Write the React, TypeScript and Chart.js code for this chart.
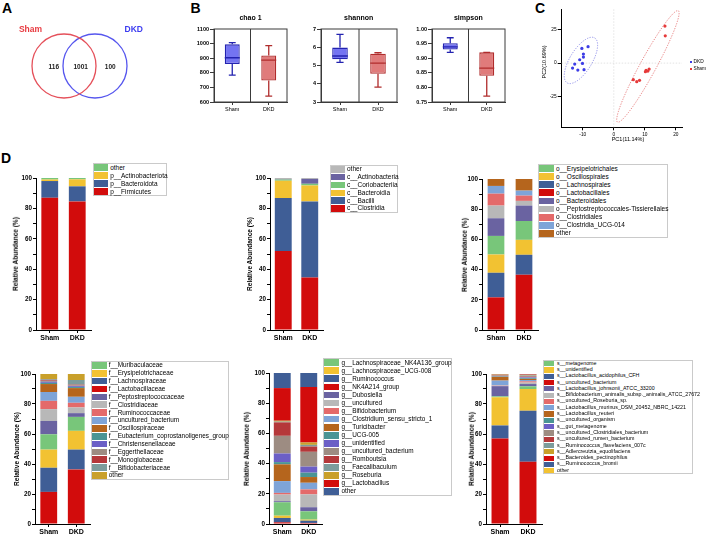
import React, { useEffect, useRef } from 'react';
import Chart from 'chart.js/auto';

const FONT = "'Liberation Sans', Arial, Helvetica, sans-serif";
Chart.defaults.font.family = FONT;
Chart.defaults.color = '#000';

// ---------- palette ----------
const RED = '#d20c0c';
const BLUE = '#3f5e96';
const YELLOW = '#f2c232';
const GREEN = '#78c67a';
const PURPLE = '#6a63a1';
const GRAY = '#b8b8b8';
const PINK = '#e46a6a';
const LIGHTBLUE = '#7ea4d8';
const ORANGE = '#b5651d';
const TEAL = '#4a9595';
const PURPLEBLUE = '#6c5fc6';
const BROWNGRAY = '#9d8c82';
const DARKRED = '#b5383a';
const GRAYTEAL = '#7d9c9c';
const OLIVE = '#c9a02a';

// ---------- A: Venn ----------
const vennSets = ['Sham', 'DKD'];
const vennCenters = [-0.5, 0.5];
const vennCounts = [116, 1001, 100];
const vennCountX = [-0.83, 0.04, 0.99];
const vennColors = ['#e5505a', '#5656ee'];
const vennLabelColors = ['#e83a40', '#3d3df0'];

// ---------- B: alpha diversity [min, q1, median, q3, max] ----------
const groups = ['Sham', 'DKD'];
const chaoStats = [
  [784, 860, 903, 995, 1006],
  [640, 747, 887, 918, 986],
];
const shannonStats = [
  [5.17, 5.34, 5.52, 5.98, 6.71],
  [3.81, 4.55, 5.13, 5.65, 5.7],
];
const simpsonStats = [
  [0.92, 0.93, 0.939, 0.951, 0.97],
  [0.77, 0.84, 0.866, 0.92, 0.92],
];

// ---------- C: PCA ----------
const dkdPC1 = [-10.3, -8.3, -9.8, -9.8, -11.0, -12.6, -10.1, -13.3, -9.6, -11.6];
const dkdPC2 = [10.9, 12.2, 6.7, 4.5, 2.5, -0.7, -0.2, -3.7, -4.9, -5.2];
const shamPC1 = [16.5, 16.6, 10.4, 11.0, 11.4, 10.2, 6.3, 7.4, 8.3];
const shamPC2 = [27.5, 20.3, -5.4, -5.9, -4.4, -6.4, -12.3, -13.8, -12.8];
const dkdEllipseCenter = [-10.6, 2.0];
const dkdEllipseAxes = [[4.45, 16.7], [3.03, -4.26]];
const shamEllipseCenter = [11.0, -2.45];
const shamEllipseAxes = [[9.8, 41.4], [2.3, -2.8]];

// ---------- D: relative abundance (stack order bottom -> top) ----------
const phylumLabels = ['p__Firmicutes', 'p__Bacteroidota', 'p__Actinobacteriota', 'other'];
const phylumSham = [87.0, 11.0, 1.0, 1.0];
const phylumDKD = [84.6, 9.9, 4.6, 0.9];
const phylumColors = [RED, BLUE, YELLOW, GREEN];
const phylumLegend = [3, 2, 1, 0];

const classLabels = ['c__Clostridia', 'c__Bacilli', 'c__Bacteroidia', 'c__Coriobacteriia', 'c__Actinobacteria', 'other'];
const classSham = [52.0, 34.8, 11.4, 0.8, 0.3, 0.7];
const classDKD = [34.5, 50.1, 10.5, 1.1, 3.2, 0.6];
const classColors = [RED, BLUE, YELLOW, GREEN, PURPLE, GRAY];
const classLegend = [5, 4, 3, 2, 1, 0];

const orderLabels = [
  'o__Lactobacillales', 'o__Lachnospirales', 'o__Oscillospirales', 'o__Erysipelotrichales',
  'o__Bacteroidales', 'o__Peptostreptococcales-Tissierellales', 'o__Clostridiales',
  'o__Clostridia_UCG-014', 'other',
];
const orderSham = [21.6, 16.3, 12.1, 12.3, 11.7, 8.4, 7.9, 5.1, 4.6];
const orderDKD = [36.6, 13.2, 9.9, 12.5, 10.2, 3.1, 3.5, 3.3, 7.7];
const orderColors = [RED, BLUE, YELLOW, GREEN, PURPLE, GRAY, PINK, LIGHTBLUE, ORANGE];
const orderLegend = [3, 2, 1, 0, 4, 5, 6, 7, 8];

const familyLabels = [
  'f__Lactobacillaceae', 'f__Lachnospiraceae', 'f__Erysipelotrichaceae', 'f__Muribaculaceae',
  'f__Peptostreptococcaceae', 'f__Clostridiaceae', 'f__Ruminococcaceae', 'f__uncultured_bacterium',
  'f__Oscillospiraceae', 'f__Eubacterium_coprostanoligenes_group', 'f__Christensenellaceae',
  'f__Eggerthellaceae', 'f__Monoglobaceae', 'f__Bifidobacteriaceae', 'other',
];
const familySham = [21.4, 16.1, 12.1, 10.2, 8.9, 7.9, 5.5, 5.9, 5.3, 0.8, 0.7, 0.7, 0.6, 0.5, 3.4];
const familyDKD = [36.4, 13.2, 12.5, 9.3, 2.5, 3.8, 3.1, 4.0, 5.8, 0.7, 0.6, 0.5, 0.5, 3.1, 4.0];
const familyColors = [RED, BLUE, YELLOW, GREEN, PURPLE, GRAY, PINK, LIGHTBLUE, ORANGE, TEAL, PURPLEBLUE, BROWNGRAY, DARKRED, GRAYTEAL, OLIVE];
const familyLegend = [3, 2, 1, 0, 4, 5, 6, 7, 8, 9, 10, 11, 12, 13, 14];

const genusLabels = [
  'g__NK4A214_group', 'g__Ruminococcus', 'g__Lachnospiraceae_UCG-008', 'g__Lachnospiraceae_NK4A136_group',
  'g__Dubosiella', 'g__uncultured', 'g__Bifidobacterium', 'g__Clostridium_sensu_stricto_1',
  'g__Turicibacter', 'g__UCG-005', 'g__unidentified', 'g__uncultured_bacterium', 'g__Romboutsia',
  'g__Faecalibaculum', 'g__Roseburia', 'g__Lactobacillus', 'other',
];
const genusSham = [1.1, 2.9, 1.5, 8.9, 0.7, 4.4, 1.1, 7.8, 11.1, 1.5, 5.7, 11.7, 8.9, 0.5, 0.6, 21.6, 10.0];
const genusDKD = [0.7, 1.5, 0.7, 5.5, 2.7, 8.5, 3.3, 4.4, 3.8, 2.9, 4.0, 9.8, 3.5, 1.1, 1.6, 36.7, 9.3];
const genusColors = [RED, BLUE, YELLOW, GREEN, PURPLE, GRAY, PINK, LIGHTBLUE, ORANGE, TEAL, PURPLEBLUE, BROWNGRAY, DARKRED, GRAYTEAL, OLIVE, RED, BLUE];
const genusLegend = [3, 2, 1, 0, 4, 5, 6, 7, 8, 9, 10, 11, 12, 13, 14, 15, 16];

const speciesLabels = [
  's__uncultured_bacterium', 's__Lactobacillus_acidophilus_CFH', 's__unidentified', 's__metagenome',
  's__Lactobacillus_johnsonii_ATCC_33200', 's__Bifidobacterium_animalis_subsp._animalis_ATCC_27672',
  's__uncultured_Roseburia_sp.', 's__Lactobacillus_murinus_DSM_20452_NBRC_14221', 's__Lactobacillus_reuteri',
  's__uncultured_organism', 's__gut_metagenome', 's__uncultured_Clostridiales_bacterium',
  's__uncultured_rumen_bacterium', 's__Ruminococcus_flavefaciens_007c', 's__Adlercreutzia_equolifaciens',
  's__Bacteroides_pectinophilus', 's__Ruminococcus_bromii', 'other',
];
const speciesSham = [57.0, 8.7, 18.8, 0.6, 6.8, 0.3, 0.2, 3.2, 2.5, 0.3, 0.2, 0.3, 0.3, 0.2, 0.2, 0.2, 0.1, 0.1];
const speciesDKD = [41.5, 34.0, 14.5, 1.8, 1.5, 1.0, 0.8, 0.9, 0.7, 0.5, 0.5, 0.5, 0.4, 0.4, 0.3, 0.3, 0.2, 0.2];
const speciesColors = [RED, BLUE, YELLOW, GREEN, PURPLE, GRAY, PINK, LIGHTBLUE, ORANGE, TEAL, PURPLEBLUE, BROWNGRAY, DARKRED, GRAYTEAL, OLIVE, RED, BLUE, YELLOW];
const speciesLegend = [3, 2, 1, 0, 4, 5, 6, 7, 8, 9, 10, 11, 12, 13, 14, 15, 16, 17];

// ---------- generic canvas ----------
function ChartCanvas({ left, top, width, height, make }: any) {
  const ref = useRef<HTMLCanvasElement | null>(null);
  useEffect(() => {
    const chart = new Chart(ref.current as HTMLCanvasElement, make());
    return () => chart.destroy();
  }, []);
  return (
    <canvas
      ref={ref}
      width={Math.round(width)}
      height={Math.round(height)}
      style={{ position: 'absolute', left, top, width: Math.round(width), height: Math.round(height) }}
    />
  );
}

function T({ x, y, size, bold, color, align, rotate, children }: any) {
  const tx = align === 'left' ? '0' : '-50%';
  return (
    <div
      style={{
        position: 'absolute',
        left: x,
        top: y,
        fontSize: size,
        lineHeight: `${size}px`,
        fontWeight: bold ? 'bold' : 'normal',
        color: color || '#000',
        whiteSpace: 'nowrap',
        transform: `translate(${tx}, -50%)${rotate ? ' rotate(-90deg)' : ''}`,
        transformOrigin: rotate ? 'center center' : undefined,
      }}
    >
      {children}
    </div>
  );
}

// ---------- Venn ----------
const vennPlugin = {
  id: 'vennCounts',
  afterDatasetsDraw(chart: any) {
    const { ctx, scales } = chart;
    ctx.save();
    ctx.fillStyle = '#222';
    ctx.font = `bold 6.5px ${FONT}`;
    ctx.textAlign = 'center';
    ctx.textBaseline = 'middle';
    vennCounts.forEach((c, i) => {
      ctx.fillText(String(c), scales.x.getPixelForValue(vennCountX[i]), scales.y.getPixelForValue(0) + 1.5);
    });
    ctx.restore();
  },
};

function vennConfig(): any {
  return {
    type: 'scatter',
    data: {
      datasets: vennSets.map((s, i) => ({
        label: s,
        data: [{ x: vennCenters[i], y: 0 }],
        pointRadius: 32,
        pointBorderWidth: 1.3,
        pointBorderColor: vennColors[i],
        pointBackgroundColor: 'rgba(0,0,0,0)',
      })),
    },
    options: {
      responsive: false,
      animation: false,
      layout: { padding: 0, autoPadding: false },
      plugins: { legend: { display: false }, tooltip: { enabled: false } },
      scales: {
        x: { display: false, min: -2.565, max: 2.565 },
        y: { display: false, min: -1, max: 1 },
      },
    },
    plugins: [vennPlugin],
  };
}

// ---------- Box plots ----------
const SHAM_FILL = '#7474f2';
const SHAM_LINE = '#2323b0';
const DKD_FILL = '#e07b7b';
const DKD_LINE = '#b02c2c';

function makeBoxPlugin(stats: number[][]) {
  return {
    id: 'boxWhiskers',
    afterDatasetsDraw(chart: any) {
      const { ctx, chartArea, scales } = chart;
      const y = scales.y;
      const meta = chart.getDatasetMeta(0);
      const lines = [SHAM_LINE, DKD_LINE];
      ctx.save();
      meta.data.forEach((bar: any, i: number) => {
        const [mn, q1, md, q3, mx] = stats[i];
        const cx = bar.x;
        const w = bar.width;
        const cw = w * 0.23;
        const pMin = y.getPixelForValue(mn);
        const pMax = y.getPixelForValue(mx);
        const pMed = y.getPixelForValue(md);
        const pQ1 = y.getPixelForValue(q1);
        const pQ3 = y.getPixelForValue(q3);
        ctx.strokeStyle = lines[i];
        ctx.lineWidth = 1.3;
        ctx.beginPath();
        ctx.moveTo(cx, pQ3);
        ctx.lineTo(cx, pMax);
        ctx.moveTo(cx - cw, pMax);
        ctx.lineTo(cx + cw, pMax);
        ctx.moveTo(cx, pQ1);
        ctx.lineTo(cx, pMin);
        ctx.moveTo(cx - cw, pMin);
        ctx.lineTo(cx + cw, pMin);
        ctx.moveTo(cx - w / 2, pMed);
        ctx.lineTo(cx + w / 2, pMed);
        ctx.stroke();
      });
      ctx.strokeStyle = '#3a3a3a';
      ctx.lineWidth = 1;
      ctx.strokeRect(chartArea.left, chartArea.top, chartArea.width, chartArea.height);
      const mid = (meta.data[0].x + meta.data[1].x) / 2;
      ctx.beginPath();
      ctx.moveTo(mid, chartArea.top);
      ctx.lineTo(mid, chartArea.bottom);
      ctx.stroke();
      ctx.restore();
    },
  };
}

function boxConfig(stats: number[][], min: number, max: number, step: number, decimals: number): any {
  return {
    type: 'bar',
    data: {
      labels: groups,
      datasets: [
        {
          data: stats.map((s) => [s[1], s[3]]),
          backgroundColor: [SHAM_FILL, DKD_FILL],
          borderColor: [SHAM_LINE, DKD_LINE],
          borderWidth: 1.3,
          borderSkipped: false,
          barPercentage: 0.41,
          categoryPercentage: 1,
        },
      ],
    },
    options: {
      responsive: false,
      animation: false,
      layout: { padding: { top: 9, right: 3, left: 0, bottom: 0 }, autoPadding: false },
      plugins: { legend: { display: false }, tooltip: { enabled: false } },
      scales: {
        x: {
          grid: { drawOnChartArea: false, offset: false, tickLength: 3, color: '#3a3a3a' },
          border: { color: '#3a3a3a' },
          ticks: { font: { size: 5.5 }, padding: 1, maxRotation: 0 },
          afterFit: (s: any) => { s.height = 13; },
        },
        y: {
          min,
          max,
          grid: { drawOnChartArea: false, tickLength: 4, color: '#3a3a3a' },
          border: { color: '#3a3a3a' },
          ticks: {
            stepSize: step,
            font: { size: 5.5, weight: 'bold' },
            padding: 1,
            callback: (v: any) => Number(v).toFixed(decimals),
          },
          afterFit: (s: any) => { s.width = 24; },
        },
      },
    },
    plugins: [makeBoxPlugin(stats)],
  };
}

// ---------- PCA ----------
const pcaPlugin = {
  id: 'pcaExtras',
  beforeDatasetsDraw(chart: any) {
    const { ctx, chartArea, scales } = chart;
    const { x, y } = scales;
    ctx.save();
    ctx.strokeStyle = '#d9d9d9';
    ctx.lineWidth = 0.7;
    ctx.setLineDash([1.5, 1.5]);
    const x0 = x.getPixelForValue(0);
    const y0 = y.getPixelForValue(0);
    ctx.beginPath();
    ctx.moveTo(x0, chartArea.top);
    ctx.lineTo(x0, chartArea.bottom);
    ctx.moveTo(chartArea.left, y0);
    ctx.lineTo(chartArea.right, y0);
    ctx.stroke();
    const ells = [
      { c: dkdEllipseCenter, a: dkdEllipseAxes, color: '#7d7de4' },
      { c: shamEllipseCenter, a: shamEllipseAxes, color: '#e36b6b' },
    ];
    ctx.setLineDash([1.3, 1.3]);
    ctx.lineWidth = 0.8;
    ells.forEach((e) => {
      ctx.strokeStyle = e.color;
      ctx.beginPath();
      for (let i = 0; i <= 180; i++) {
        const t = (i / 180) * Math.PI * 2;
        const dx = e.c[0] + e.a[0][0] * Math.cos(t) + e.a[1][0] * Math.sin(t);
        const dy = e.c[1] + e.a[0][1] * Math.cos(t) + e.a[1][1] * Math.sin(t);
        const px = x.getPixelForValue(dx);
        const py = y.getPixelForValue(dy);
        if (i === 0) ctx.moveTo(px, py);
        else ctx.lineTo(px, py);
      }
      ctx.closePath();
      ctx.stroke();
    });
    ctx.restore();
  },
};

function pcaConfig(): any {
  return {
    type: 'scatter',
    data: {
      datasets: [
        {
          label: 'DKD',
          data: dkdPC1.map((v, i) => ({ x: v, y: dkdPC2[i] })),
          pointRadius: 1.6,
          pointBackgroundColor: '#3d3de6',
          pointBorderWidth: 0,
        },
        {
          label: 'Sham',
          data: shamPC1.map((v, i) => ({ x: v, y: shamPC2[i] })),
          pointRadius: 1.6,
          pointBackgroundColor: '#e63a3a',
          pointBorderWidth: 0,
        },
      ],
    },
    options: {
      responsive: false,
      animation: false,
      layout: { padding: { top: 7.3, right: 4, left: 0, bottom: 0 }, autoPadding: false },
      plugins: { legend: { display: false }, tooltip: { enabled: false } },
      scales: {
        x: {
          min: -16.8,
          max: 22,
          grid: { drawOnChartArea: false, tickLength: 3, color: '#000' },
          border: { color: '#000' },
          ticks: { stepSize: 10, includeBounds: false, font: { size: 4.8 }, padding: 1 },
          afterFit: (s: any) => { s.height = 14.7; },
        },
        y: {
          min: -47.7,
          max: 40,
          grid: { drawOnChartArea: false, tickLength: 4, color: '#000' },
          border: { color: '#000' },
          ticks: { stepSize: 25, includeBounds: false, font: { size: 4.8 }, padding: 1 },
          afterFit: (s: any) => { s.width = 25.7; },
        },
      },
    },
    plugins: [pcaPlugin],
  };
}

// ---------- stacked bars ----------
function stackedConfig(p: any): any {
  const [aL, , aR] = p.area;
  const catW = (aR - aL) / 2;
  return {
    type: 'bar',
    data: {
      labels: groups,
      datasets: p.labels.map((l: string, i: number) => ({
        label: l,
        data: [p.sham[i], p.dkd[i]],
        backgroundColor: p.colors[i],
        borderWidth: 0,
        barPercentage: 16.8 / catW,
        categoryPercentage: 1,
      })),
    },
    options: {
      responsive: false,
      animation: false,
      layout: { padding: { top: 6, right: 2, left: 0, bottom: 0 }, autoPadding: false },
      plugins: { legend: { display: false }, tooltip: { enabled: false } },
      scales: {
        x: {
          stacked: true,
          grid: { drawOnChartArea: false, offset: false, tickLength: 3, color: '#000' },
          border: { color: '#000', width: 1 },
          ticks: { font: { size: 7, weight: 'bold' }, padding: 1, maxRotation: 0, autoSkip: false },
          afterFit: (s: any) => { s.height = 16; },
        },
        y: {
          stacked: true,
          min: 0,
          max: 100,
          grid: { drawOnChartArea: false, tickLength: 3, color: '#000' },
          border: { color: '#000', width: 1 },
          ticks: {
            stepSize: 10,
            autoSkip: false,
            font: { size: 6.3, weight: 'bold' },
            padding: 1,
            callback: (v: any) => (Number(v) % 20 === 0 ? String(v) : ''),
          },
          afterFit: (s: any) => { s.width = 26; },
        },
      },
    },
  };
}

function StackedPanel({ p }: any) {
  const [aL, aT, aR, aB] = p.area;
  const left = aL - 26;
  const top = aT - 6;
  const width = aR + 2 - left;
  const height = aB + 16 - top;
  const lg = p.leg;
  const items = p.legend.map((i: number) => ({ label: p.labels[i], color: p.colors[i] }));
  return (
    <>
      <ChartCanvas left={left} top={top} width={width} height={height} make={() => stackedConfig(p)} />
      <T x={p.titleX} y={(aT + aB) / 2} size={6.5} bold rotate>
        Relative Abundance (%)
      </T>
      <div
        style={{
          position: 'absolute',
          left: lg.x,
          top: lg.y,
          width: lg.w,
          height: lg.row * items.length + 1,
          border: '1px solid #cacaca',
          boxSizing: 'border-box',
          background: '#fff',
        }}
      >
        {items.map((it: any, i: number) => (
          <React.Fragment key={i}>
            <div
              style={{
                position: 'absolute',
                left: 0,
                top: lg.row * i + (lg.row - lg.sh) / 2 - 0.5,
                width: lg.sw,
                height: lg.sh,
                background: it.color,
              }}
            />
            <div
              style={{
                position: 'absolute',
                left: lg.textX,
                top: lg.row * i + lg.row / 2 - 0.5,
                transform: 'translateY(-50%)',
                fontSize: lg.font,
                lineHeight: `${lg.font}px`,
                whiteSpace: 'nowrap',
                color: '#000',
              }}
            >
              {it.label}
            </div>
          </React.Fragment>
        ))}
      </div>
    </>
  );
}

const dPanels = [
  {
    labels: phylumLabels, sham: phylumSham, dkd: phylumDKD, colors: phylumColors, legend: phylumLegend,
    area: [36, 177.7, 91, 330], titleX: 16,
    leg: { x: 92.7, y: 163.3, w: 74.6, row: 8, font: 6.5, sw: 14, sh: 6.8, textX: 16.5 },
  },
  {
    labels: classLabels, sham: classSham, dkd: classDKD, colors: classColors, legend: classLegend,
    area: [270, 178.3, 322.7, 330], titleX: 250,
    leg: { x: 330, y: 165, w: 67.7, row: 7.8, font: 6.5, sw: 14, sh: 6.6, textX: 16 },
  },
  {
    labels: orderLabels, sham: orderSham, dkd: orderDKD, colors: orderColors, legend: orderLegend,
    area: [481.7, 179, 538, 330.3], titleX: 465.3,
    leg: { x: 538.3, y: 164, w: 130, row: 8.1, font: 6.5, sw: 14.5, sh: 6.9, textX: 16.7 },
  },
  {
    labels: familyLabels, sham: familySham, dkd: familyDKD, colors: familyColors, legend: familyLegend,
    area: [35, 374.3, 90, 524.3], titleX: 16.7,
    leg: { x: 91, y: 361, w: 137.7, row: 7.86, font: 6.4, sw: 15, sh: 6.7, textX: 16.8 },
  },
  {
    labels: genusLabels, sham: genusSham, dkd: genusDKD, colors: genusColors, legend: genusLegend,
    area: [269.3, 373.3, 322, 524.3], titleX: 246.7,
    leg: { x: 323.3, y: 358.3, w: 128.7, row: 8.04, font: 6.4, sw: 15, sh: 6.8, textX: 17.2 },
  },
  {
    labels: speciesLabels, sham: speciesSham, dkd: speciesDKD, colors: speciesColors, legend: speciesLegend,
    area: [485.5, 374, 541, 524.3], titleX: 472,
    leg: { x: 542.7, y: 360, w: 150.6, row: 6.3, font: 5.3, sw: 10.7, sh: 5.2, textX: 13.3 },
  },
];

export default function App() {
  return (
    <div
      style={{
        position: 'absolute',
        left: 0,
        top: 0,
        width: 708,
        height: 536,
        background: '#fff',
        overflow: 'hidden',
        fontFamily: FONT,
      }}
    >
      {/* panel letters */}
      <T x={2} y={8} size={14} bold align="left">A</T>
      <T x={190.5} y={8} size={14} bold align="left">B</T>
      <T x={535} y={8} size={14} bold align="left">C</T>
      <T x={1} y={158} size={14} bold align="left">D</T>

      {/* A: Venn */}
      <ChartCanvas left={0} top={0} width={159} height={132} make={vennConfig} />
      <T x={30.5} y={29.3} size={8.5} bold color={vennLabelColors[0]}>{vennSets[0]}</T>
      <T x={133.8} y={29.3} size={8.5} bold color={vennLabelColors[1]}>{vennSets[1]}</T>

      {/* B: alpha diversity */}
      <ChartCanvas left={190} top={20} width={100} height={95} make={() => boxConfig(chaoStats, 600, 1100, 100, 0)} />
      <ChartCanvas left={296.7} top={20} width={103} height={95} make={() => boxConfig(shannonStats, 3, 7, 1, 0)} />
      <ChartCanvas left={407.7} top={20} width={100.3} height={95} make={() => boxConfig(simpsonStats, 0.75, 1.0, 0.05, 2)} />
      <T x={250.5} y={17.3} size={7} bold>chao 1</T>
      <T x={358.7} y={17.3} size={7} bold>shannon</T>
      <T x={468.3} y={17.3} size={7} bold>simpson</T>

      {/* C: PCA */}
      <ChartCanvas left={536} top={2} width={150} height={140} make={pcaConfig} />
      <T x={628} y={140} size={5.5}>PC1(11.14%)</T>
      <T x={545.3} y={61.7} size={5.5} rotate>PC2(10.69%)</T>
      <div style={{ position: 'absolute', left: 689.5, top: 60.8, width: 2.6, height: 2.6, background: '#3d3de6' }} />
      <T x={693.5} y={62.2} size={4.8} align="left">DKD</T>
      <div style={{ position: 'absolute', left: 689.5, top: 67.6, width: 2.6, height: 2.6, background: '#e63a3a' }} />
      <T x={693.5} y={69} size={4.8} align="left">Sham</T>

      {/* D: stacked relative abundance */}
      {dPanels.map((p, i) => (
        <StackedPanel key={i} p={p} />
      ))}
    </div>
  );
}
